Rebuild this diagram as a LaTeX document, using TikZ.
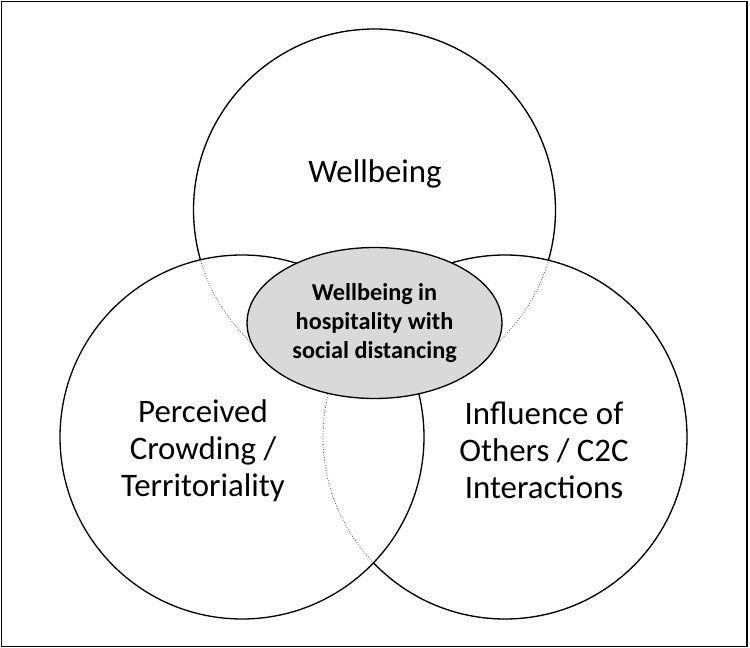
\documentclass[tikz,border=0pt]{standalone}
\usepackage{fontspec}
\setmainfont{Carlito}
\usetikzlibrary{shapes.geometric}
\begin{document}
\begin{tikzpicture}[x=0.02cm,y=-0.02cm,
    ring/.style={draw=black,line width=0.75pt},
    hidden/.style={draw=black!60,densely dotted,line width=0.5pt},
    lbl/.style={align=center,font=\fontsize{18.7}{21}\selectfont}]
  \useasboundingbox (0,0) rectangle (750,648);
  \fill[white] (0,0) rectangle (750,648);
  \draw[line width=1.1pt] (1.5,1.5) rectangle (747,646.5);

  \coordinate (wbc) at (374.5,210);
  \coordinate (pcc) at (242,437);
  \coordinate (ioc) at (505,437);

  % parts lying under another circle
  \draw[hidden] (wbc) circle (181);
  \draw[hidden] (ioc) circle (182);

  \draw[ring] (pcc) circle (182);
  \begin{scope}[even odd rule]
    \clip (0,0) rectangle (750,648) (pcc) circle (182);
    \draw[ring] (ioc) circle (182);
    \begin{scope}
      \clip (0,0) rectangle (750,648) (ioc) circle (182);
      \draw[ring] (wbc) circle (181);
    \end{scope}
  \end{scope}

  \node[shape=ellipse,draw=black,fill=black!15,line width=0.75pt,inner sep=0pt,
    minimum width=5.1cm,minimum height=3.02cm,align=center,
    font=\bfseries\fontsize{13.8}{16.4}\selectfont] (core) at (374.5,323)
    {Wellbeing in\\hospitality with\\social distancing};

  \node[lbl] (wb) at (375,174) {Wellbeing};
  \node[lbl] (pc) at (203,451) {Perceived\\Crowding /\\Territoriality};
  \node[lbl] (io) at (544,450) {Influence of\\Others / C2C\\Interactions};
\end{tikzpicture}
\end{document}
